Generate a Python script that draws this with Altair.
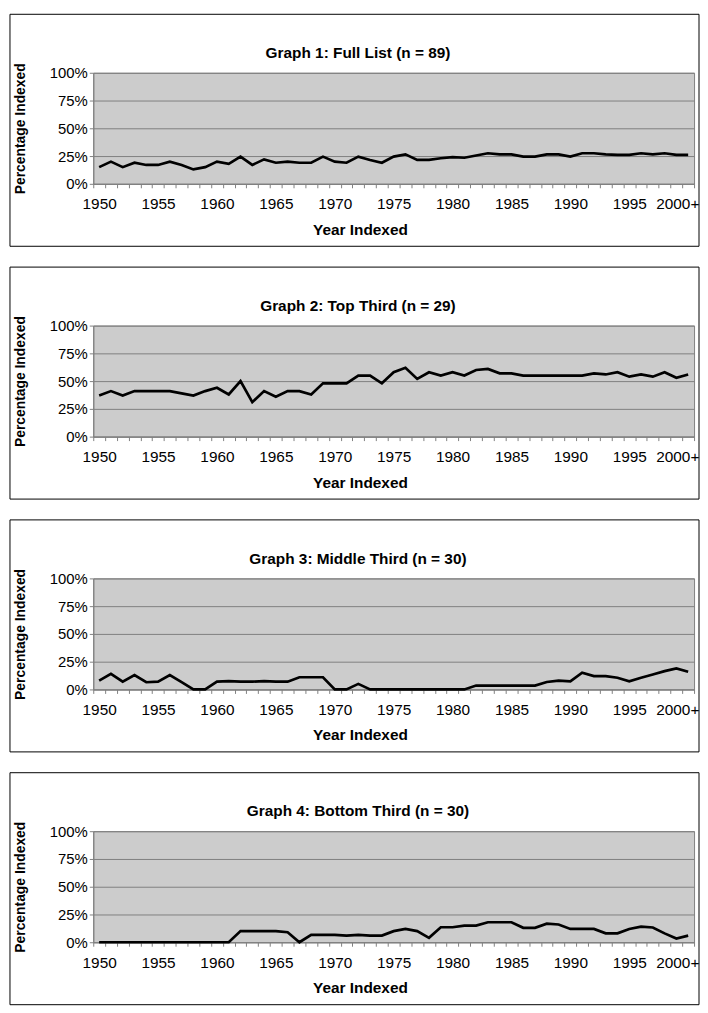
import altair as alt
import pandas as pd

years = [str(y) for y in range(1950, 2000)] + ["2000+"]

titles = [
    "Graph 1: Full List (n = 89)",
    "Graph 2: Top Third (n = 29)",
    "Graph 3: Middle Third (n = 30)",
    "Graph 4: Bottom Third (n = 30)",
]

full_list = [0.15, 0.20, 0.15, 0.19, 0.17, 0.17, 0.20, 0.17, 0.13, 0.15,
             0.20, 0.18, 0.245, 0.17, 0.22, 0.19, 0.20, 0.19, 0.19, 0.245,
             0.20, 0.19, 0.245, 0.215, 0.19, 0.245, 0.265, 0.215, 0.215, 0.23,
             0.24, 0.235, 0.255, 0.275, 0.265, 0.265, 0.245, 0.245, 0.265, 0.265,
             0.245, 0.275, 0.275, 0.265, 0.26, 0.26, 0.275, 0.265, 0.275, 0.26,
             0.26]

top_third = [0.37, 0.41, 0.37, 0.41, 0.41, 0.41, 0.41, 0.39, 0.37, 0.41,
             0.44, 0.38, 0.50, 0.31, 0.41, 0.36, 0.41, 0.41, 0.38, 0.48,
             0.48, 0.48, 0.55, 0.55, 0.48, 0.58, 0.62, 0.52, 0.58, 0.55,
             0.58, 0.55, 0.60, 0.61, 0.57, 0.57, 0.55, 0.55, 0.55, 0.55,
             0.55, 0.55, 0.57, 0.56, 0.58, 0.54, 0.56, 0.54, 0.58, 0.53,
             0.56]

middle_third = [0.08, 0.14, 0.07, 0.13, 0.065, 0.07, 0.13, 0.065, 0.0, 0.0,
                0.07, 0.075, 0.07, 0.07, 0.075, 0.07, 0.07, 0.11, 0.11, 0.11,
                0.0, 0.0, 0.05, 0.0, 0.0, 0.0, 0.0, 0.0, 0.0, 0.0,
                0.0, 0.0, 0.035, 0.035, 0.035, 0.035, 0.035, 0.035, 0.067, 0.08,
                0.073, 0.15, 0.12, 0.12, 0.105, 0.073, 0.105, 0.134, 0.165, 0.19,
                0.16]

bottom_third = [0.0, 0.0, 0.0, 0.0, 0.0, 0.0, 0.0, 0.0, 0.0, 0.0,
                0.0, 0.0, 0.10, 0.10, 0.10, 0.10, 0.09, 0.0, 0.067, 0.067,
                0.067, 0.06, 0.067, 0.06, 0.06, 0.10, 0.12, 0.10, 0.04, 0.135,
                0.135, 0.15, 0.15, 0.18, 0.18, 0.18, 0.13, 0.13, 0.167, 0.16,
                0.12, 0.12, 0.12, 0.08, 0.08, 0.12, 0.14, 0.133, 0.08, 0.033,
                0.06]

series = [full_list, top_third, middle_third, bottom_third]

W, H = 606, 112
BL, BR, BT, BB = 84, 5, 59, 63
FONT = "Liberation Sans"
FS = 15.5
n = len(years)
half_band = W / n / 2
CENTER_X = 267

# label expression built from the year list (every fifth category)
label_expr = "''"
for i in range(n - 1, -1, -1):
    if i % 5 == 0:
        label_expr = f"(datum.value + 0.5) == {i} ? '{years[i]}' : ({label_expr})"


def panel(title, values):
    df = pd.DataFrame({"idx": list(range(n)), "year": years, "pct": values})
    line = alt.Chart(df).mark_line(color="black", strokeWidth=2.7).encode(
        x=alt.X(
            "idx:Q",
            scale=alt.Scale(domain=[-0.5, n - 0.5], nice=False, zero=False),
            axis=alt.Axis(
                values=[i - 0.5 for i in range(n + 1)],
                labelExpr=label_expr,
                labelOffset={
                    "condition": {"test": f"datum.value > {n - 2}", "value": -5},
                    "value": half_band,
                },
                labelFlush=False,
                labelOverlap=False,
                labelFont=FONT,
                labelFontSize=FS,
                labelColor="black",
                labelPadding=9,
                tickSize=4,
                tickColor="#808080",
                domainColor="#808080",
                grid=False,
                title="Year Indexed",
                titleFont=FONT,
                titleFontSize=FS,
                titleFontWeight="bold",
                titleColor="black",
                titleX=CENTER_X + 2,
                titleY=46,
                titleBaseline="middle",
            ),
        ),
        y=alt.Y(
            "pct:Q",
            scale=alt.Scale(domain=[0, 1], nice=False),
            axis=alt.Axis(
                values=[0, 0.25, 0.5, 0.75, 1.0],
                format=".0%",
                labelFont=FONT,
                labelFontSize=15,
                labelColor="black",
                labelPadding=2,
                tickSize=4,
                tickColor="#808080",
                domainColor="#808080",
                grid=True,
                gridColor="#808080",
                gridWidth=1,
                title="Percentage Indexed",
                titleFont=FONT,
                titleFontSize=14,
                titleFontWeight="bold",
                titleColor="black",
                titleX=-73,
                titleY=H / 2,
                titleBaseline="middle",
                titleAlign="center",
            ),
        ),
    )
    one = pd.DataFrame({"k": [0]})
    head = alt.Chart(one).mark_text(
        text=title, font=FONT, fontSize=FS, fontWeight="bold", color="black",
        align="center", baseline="middle",
    ).encode(x=alt.value(CENTER_X), y=alt.value(-20))
    box = alt.Chart(one).mark_rect(
        filled=False, stroke="black", strokeWidth=1, clip=False
    ).encode(
        x=alt.value(-BL), x2=alt.value(W + BR), y=alt.value(-BT), y2=alt.value(H + BB)
    )
    return alt.layer(line, head, box).properties(width=W, height=H)


chart = alt.vconcat(
    *[panel(t, v) for t, v in zip(titles, series)], spacing=19
).properties(
    padding={"left": 1, "top": 1, "right": 0, "bottom": 0},
    background="white",
).configure_view(
    fill="#cccccc", stroke="#808080", strokeWidth=1
)

chart.save("out.html", embed_options={"renderer": "svg", "actions": False})
